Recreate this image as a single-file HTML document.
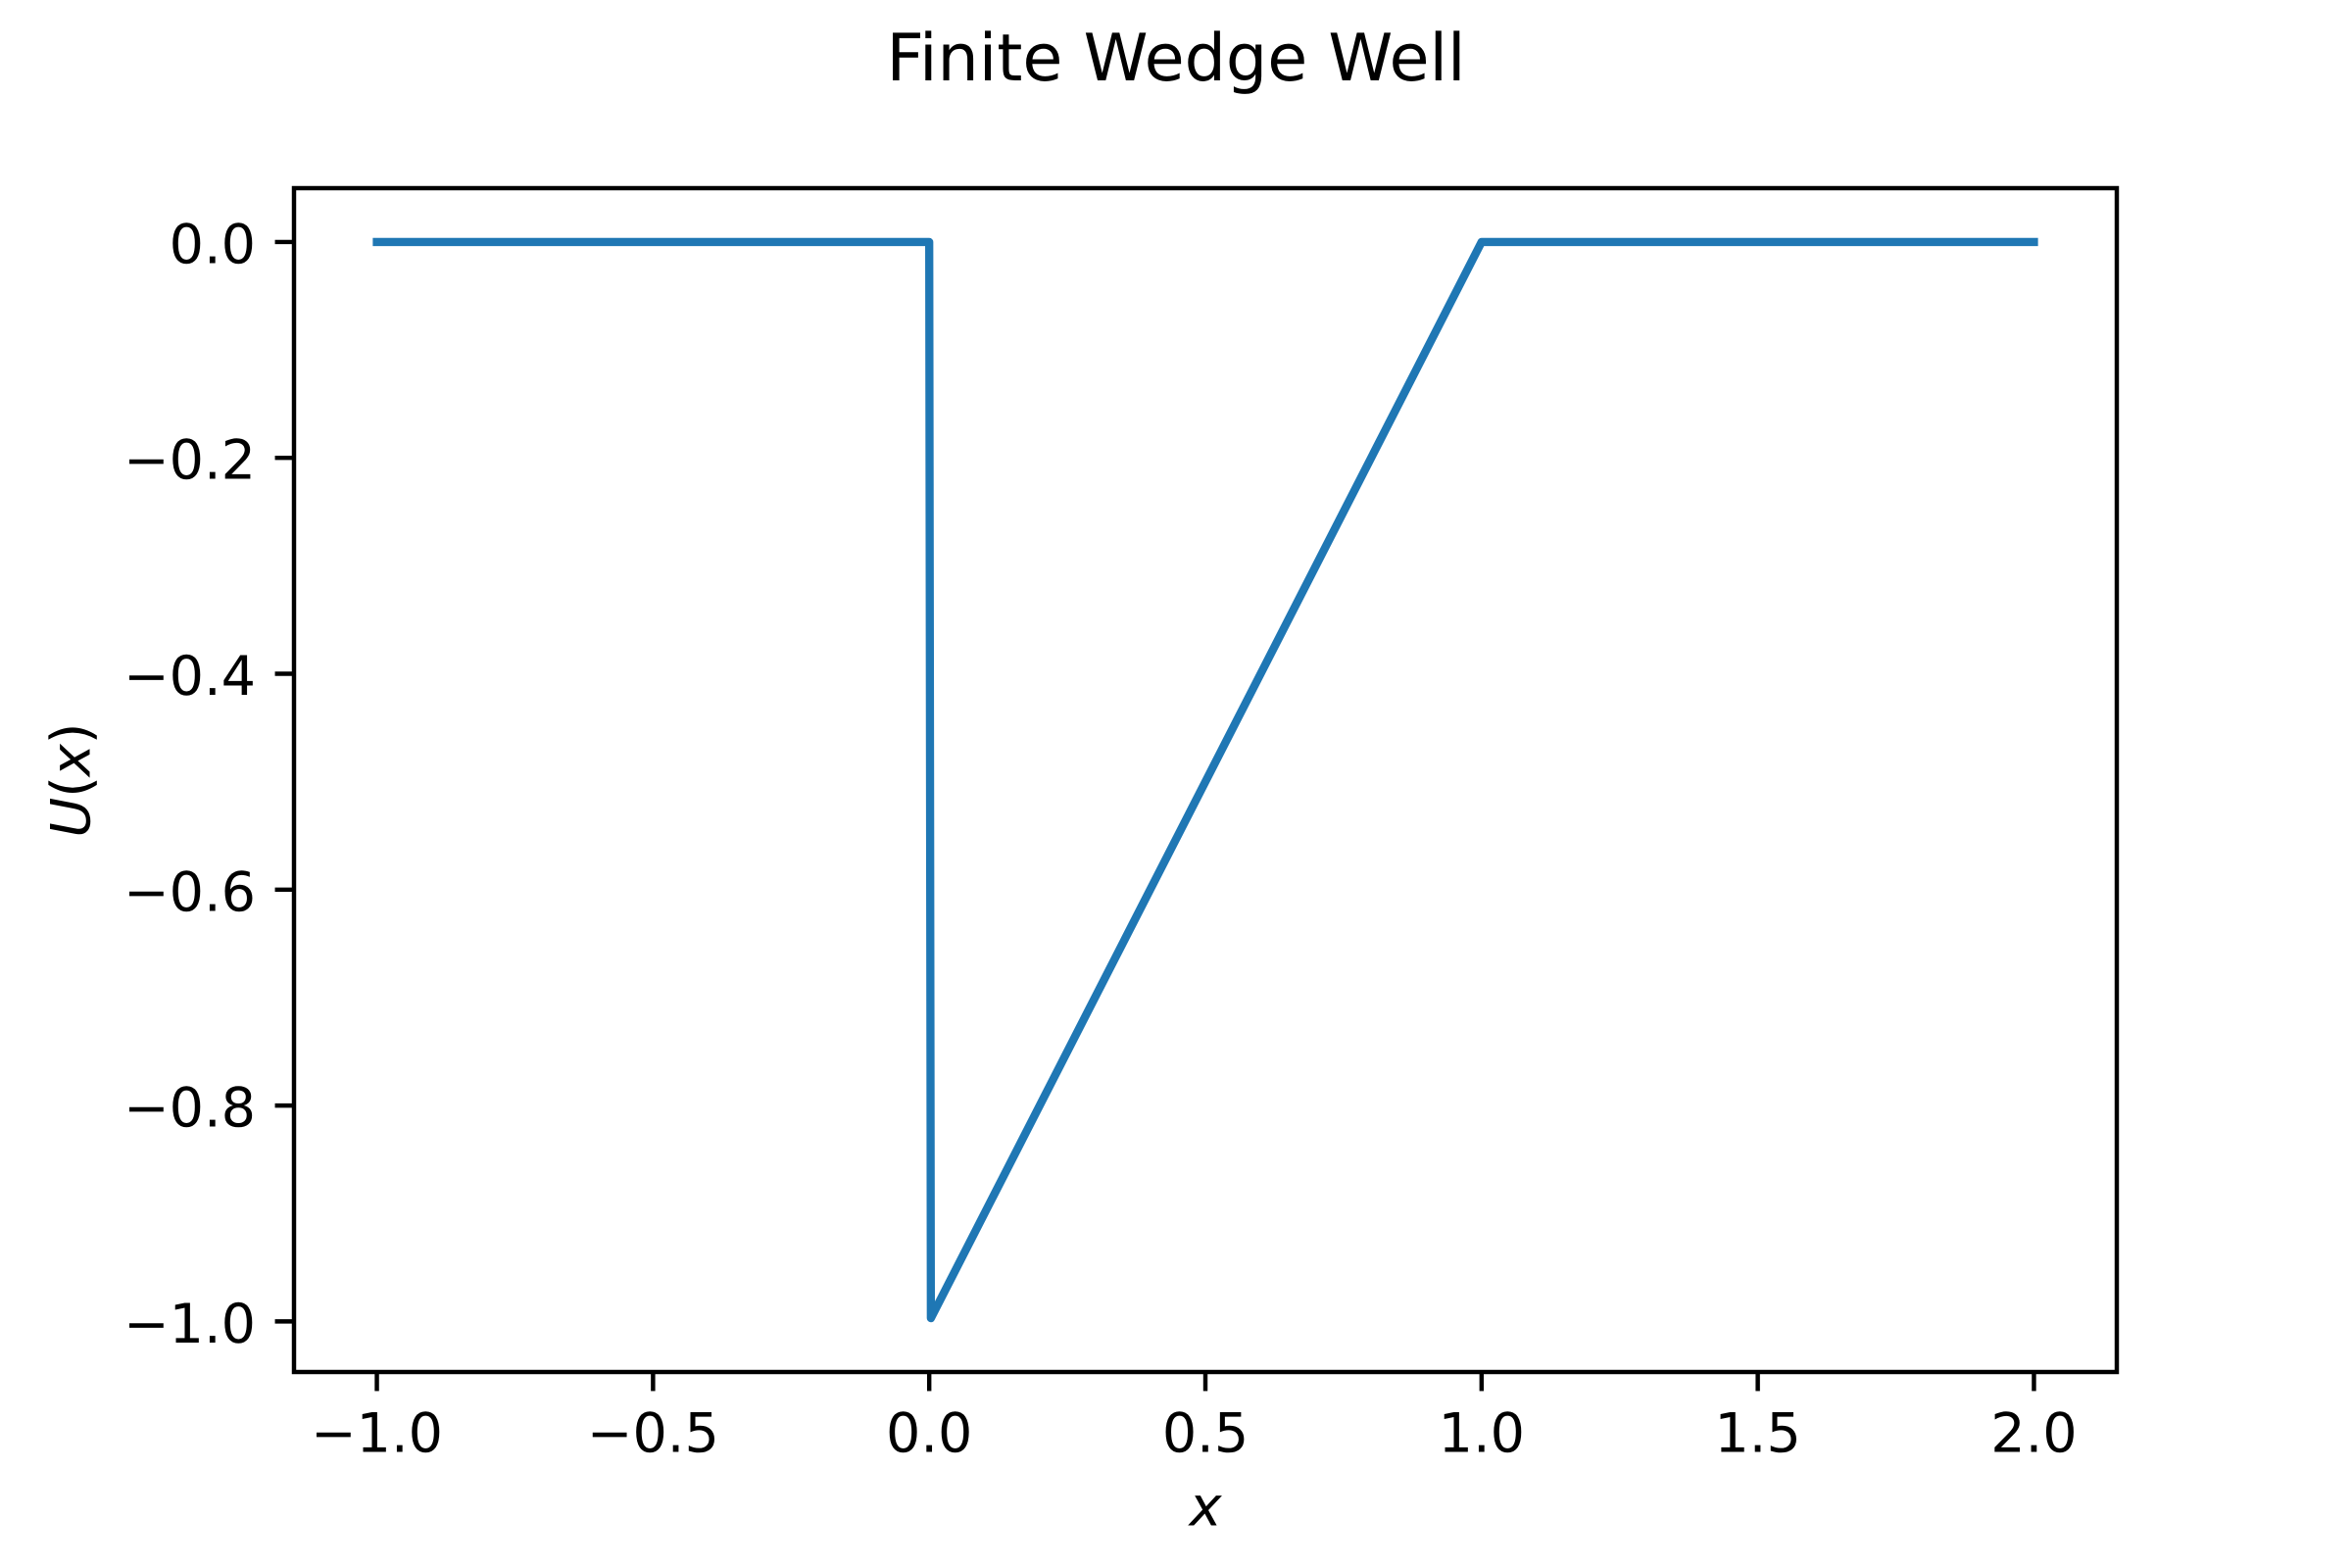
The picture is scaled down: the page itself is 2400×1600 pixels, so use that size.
<!DOCTYPE html>
<html lang="en">
<head>
<meta charset="utf-8">
<title>Finite Wedge Well</title>
<style>
html,body{margin:0;padding:0;background:#fff;width:2400px;height:1600px;overflow:hidden}
svg{display:block}
text{font-family:"DejaVu Sans","Liberation Sans",sans-serif;fill:#000;text-rendering:geometricPrecision;font-kerning:normal}
</style>
</head>
<body>
<svg id="chart" xmlns="http://www.w3.org/2000/svg" width="2400" height="1600" viewBox="0 0 2400 1600">
  <rect x="0" y="0" width="2400" height="1600" fill="#ffffff"></rect>
  <text x="1200" y="82" font-size="66.67" text-anchor="middle">Finite Wedge Well</text>
  <g id="x-ticks"></g>
  <g id="y-ticks"></g>
  <path id="series" fill="none" stroke="#1f77b4" stroke-width="8.33" stroke-linejoin="round" stroke-linecap="square"></path>
  <rect x="300" y="192" width="1860" height="1208" fill="none" stroke="#000" stroke-width="4.44" stroke-linejoin="miter"></rect>
  <text x="1230" y="1556.5" font-size="55.56" text-anchor="middle" font-style="italic">x</text>
  <text transform="translate(91.5 796) rotate(-90)" x="0" y="0" font-size="55.56" text-anchor="middle"><tspan font-style="italic">U</tspan>(<tspan font-style="italic">x</tspan>)</text>
</svg>
<script>
const xValues = [-1, 0, 0.003, 1, 2];
const uValues = [0, 0, -0.997, 0, 0];
const xTickValues = [-1, -0.5, 0, 0.5, 1, 1.5, 2];
const xTickLabels = ['\u22121.0', '\u22120.5', '0.0', '0.5', '1.0', '1.5', '2.0'];
const yTickValues = [0, -0.2, -0.4, -0.6, -0.8, -1];
const yTickLabels = ['0.0', '\u22120.2', '\u22120.4', '\u22120.6', '\u22120.8', '\u22121.0'];

const NS = 'http://www.w3.org/2000/svg';
const plot = { left: 300, right: 2160, top: 192, bottom: 1400 };
const xDomain = [-1.15, 2.15];
const yDomain = [-1.04685, 0.04985];
const tickLength = 19.44;

function xScale(v) {
  return plot.left + (v - xDomain[0]) / (xDomain[1] - xDomain[0]) * (plot.right - plot.left);
}
function yScale(v) {
  return plot.bottom - (v - yDomain[0]) / (yDomain[1] - yDomain[0]) * (plot.bottom - plot.top);
}
function svgEl(tag) {
  return document.createElementNS(NS, tag);
}

const xGroup = document.getElementById('x-ticks');
xTickValues.forEach(function (v, i) {
  const px = xScale(v);
  const mark = svgEl('line');
  
  
  mark.setAttribute('x1', px);
  mark.setAttribute('x2', px);
  mark.setAttribute('y1', plot.bottom);
  mark.setAttribute('y2', plot.bottom + tickLength);
  mark.setAttribute('stroke', '#000');
  mark.setAttribute('stroke-width', '4.44');
  xGroup.appendChild(mark);
  const label = svgEl('text');
  
  
  label.setAttribute('x', px);
  label.setAttribute('y', 1481.5);
  label.setAttribute('font-size', '55.56');
  label.setAttribute('text-anchor', 'middle');
  label.textContent = xTickLabels[i];
  xGroup.appendChild(label);
});

const yGroup = document.getElementById('y-ticks');
yTickValues.forEach(function (v, i) {
  const py = yScale(v);
  const mark = svgEl('line');
  
  
  mark.setAttribute('x1', plot.left);
  mark.setAttribute('x2', plot.left - tickLength);
  mark.setAttribute('y1', py);
  mark.setAttribute('y2', py);
  mark.setAttribute('stroke', '#000');
  mark.setAttribute('stroke-width', '4.44');
  yGroup.appendChild(mark);
  const label = svgEl('text');
  
  
  label.setAttribute('x', 261);
  label.setAttribute('y', py + 21.5);
  label.setAttribute('font-size', '55.56');
  label.setAttribute('text-anchor', 'end');
  label.textContent = yTickLabels[i];
  yGroup.appendChild(label);
});

const pathData = xValues.map(function (v, i) {
  return (i === 0 ? 'M' : 'L') + xScale(v).toFixed(2) + ' ' + yScale(uValues[i]).toFixed(2);
}).join(' ');
document.getElementById('series').setAttribute('d', pathData);
</script>
</body>
</html>
